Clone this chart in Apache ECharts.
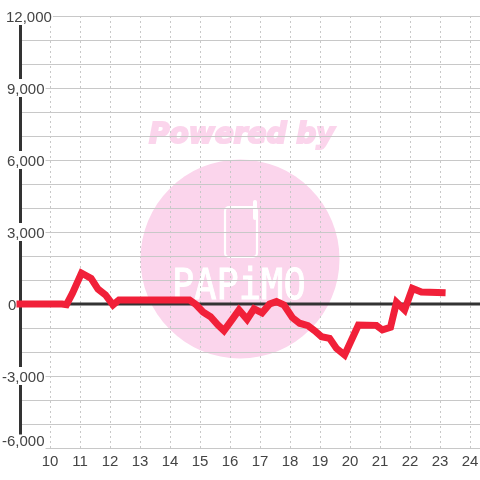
<!DOCTYPE html>
<html><head><meta charset="utf-8">
<style>html,body{margin:0;padding:0;background:#fff}#c{width:480px;height:480px}</style>
<script src="https://cdn.jsdelivr.net/npm/echarts@6/dist/echarts.min.js"></script></head>
<body><div id="c"></div>
<script>
var hours=[9,10.4,10.55,10.75,11.05,11.37,11.6,11.85,12.1,12.3,14.65,14.87,15.1,15.35,15.6,15.8,16.1,16.3,16.57,16.8,17.07,17.32,17.55,17.8,18.08,18.32,18.6,18.82,19.05,19.32,19.55,19.82,20.28,20.88,21.08,21.35,21.55,21.82,22.08,22.38,23.07];
var values=[0,0,-30,450,1290,1070,620,375,-40,170,170,-30,-330,-530,-875,-1110,-600,-250,-640,-200,-370,0,100,-40,-570,-800,-900,-1110,-1360,-1430,-1850,-2125,-875,-890,-1080,-970,70,-250,650,500,470];
var yLabels={'12000':'12,000','9000':'9,000','6000':'6,000','3000':'3,000','0':'0','-3000':'-3,000','-6000':'-6,000'};
var yPad={'12000':4,'9000':5,'6000':5,'3000':5,'0':6,'-3000':0,'-6000':0};
var hourLabels=[10,11,12,13,14,15,16,17,18,19,20,21,22,23,24];
var pink='#fbd5ec';
var rich={};
Object.keys(yLabels).forEach(function(k){rich['k'+k.replace('-','m')]={fontFamily:'Liberation Sans',fontSize:15,color:'#444',backgroundColor:k==='0'?'transparent':'#fff',padding:k==='-6000'?[0,1,12,0]:[3,1,0,yPad[k]],lineHeight:12};});
var chart=echarts.init(document.getElementById('c'),null,{renderer:'canvas'});
chart.setOption({
 animation:false,
 grid:{left:20,right:0,top:16,bottom:32,outerBoundsMode:'none'},
 graphic:[
  {type:'circle',z:-10,shape:{cx:240,cy:259,r:99.5},style:{fill:pink}},
  {type:'text',z:-10,x:149,y:122,style:{text:'Powered by',font:'italic bold 28px "DejaVu Sans"',fill:pink,stroke:pink,lineWidth:2}},
  {type:'rect',z:-10,shape:{x:225,y:207,width:32,height:50,r:4},style:{fill:'none',stroke:'#fff',lineWidth:2.2}},
  {type:'rect',z:-10,shape:{x:253,y:200,width:4,height:20,r:2},style:{fill:'#fff'}},
  {type:'text',z:-10,x:172,y:267,scaleY:1.15,style:{text:'PAPiMO',font:'37px "DejaVu Sans Mono"',fill:'#fff',stroke:'#fff',lineWidth:0.8}}
 ],
 xAxis:{type:'value',min:9,max:24.3333,interval:1,
  axisLine:{show:false},axisTick:{show:false},
  splitLine:{show:true,showMaxLine:false,lineStyle:{color:'#c8c8c8',type:[2,3],width:1}},
  axisLabel:{margin:6,fontFamily:'Liberation Sans',fontSize:15,color:'#444',
   formatter:function(v){return hourLabels.indexOf(v)>=0?String(v):'';}}},
 yAxis:{type:'value',min:-6000,max:12000,interval:1000,
  axisLine:{show:true,onZero:false,lineStyle:{color:'#333',width:3}},axisTick:{show:false},
  splitLine:{show:true,lineStyle:{color:'#c8c8c8',width:1}},
  axisLabel:{inside:true,align:'left',margin:-18,showMinLabel:true,showMaxLabel:true,rich:rich,
   formatter:function(v){var k=String(v);return yLabels[k]?'{k'+k.replace('-','m')+'|'+yLabels[k]+'}':'';}}},
 series:[
  {type:'line',silent:true,symbol:'none',data:[[9,0],[24.3333,0]],lineStyle:{color:'#333',width:3},z:2},
  {type:'line',silent:true,symbol:'none',data:hours.map(function(h,i){return [h,values[i]];}),
   lineStyle:{color:'#f12039',width:7,cap:'square',join:'miter'},z:3}
 ]
});
</script></body></html>
